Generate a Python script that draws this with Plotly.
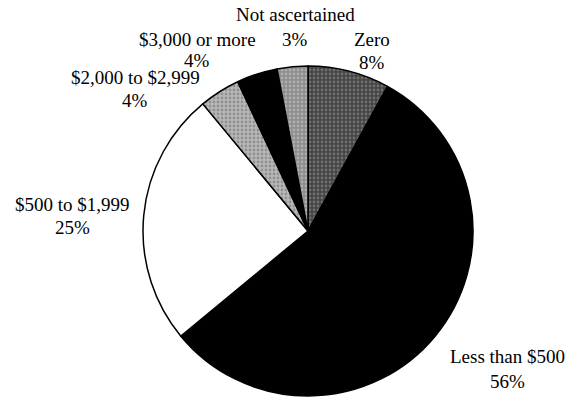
import plotly.graph_objects as go

categories = ["Zero", "Less than $500", "$500 to $1,999", "$2,000 to $2,999",
              "$3,000 or more", "Not ascertained"]
percents = [8, 56, 25, 4, 4, 3]
pct_labels = ["8%", "56%", "25%", "4%", "4%", "3%"]

fill_colors = ["#444444", "#000000", "#ffffff", "#b8b8b8", "#000000", "#8c8c8c"]
pattern_fg = ["#9a9a9a", "#000000", "#ffffff", "#6a6a6a", "#000000", "#d0d0d0"]
pattern_shape = [".", "", "", ".", "", "."]

# label anchor positions in pixels (name line, percent line): (x, y_name, y_pct)
label_pos = {
    "Zero": (372, 40, 62),
    "Less than $500": (507, 356, 381),
    "$500 to $1,999": (72, 204, 228),
    "$2,000 to $2,999": (135, 77, 101),
    "$3,000 or more": (197, 39, 60),
    "Not ascertained": (295, 15, 40),
}

W, H = 570, 400
cx, cy, r = 308, 231, 165

fig = go.Figure(go.Pie(
    labels=categories,
    values=percents,
    sort=False,
    direction="clockwise",
    rotation=0,
    textinfo="none",
    hoverinfo="label+percent",
    marker=dict(
        colors=fill_colors,
        line=dict(color="#000000", width=1.5),
        pattern=dict(shape=pattern_shape, fgcolor=pattern_fg, size=4, solidity=0.4,
                     fillmode="overlay"),
    ),
    domain=dict(x=[(cx - r) / W, (cx + r) / W], y=[(H - cy - r) / H, (H - cy + r) / H]),
    showlegend=False,
))

font = dict(family="Liberation Serif, Times New Roman, serif", size=19, color="#000000")
for name, pct in zip(categories, pct_labels):
    x, yn, yp = label_pos[name]
    for txt, yy in ((name, yn), (pct, yp)):
        fig.add_annotation(text=txt, x=x / W, y=1 - yy / H, xref="paper", yref="paper",
                           xanchor="center", yanchor="middle", showarrow=False, font=font)

fig.update_layout(
    width=W, height=H,
    margin=dict(l=0, r=0, t=0, b=0),
    paper_bgcolor="#ffffff",
    plot_bgcolor="#ffffff",
)

fig.write_html("out.html", config={"displayModeBar": False},
               post_script="document.body.style.margin='0';document.body.style.overflow='hidden';")
